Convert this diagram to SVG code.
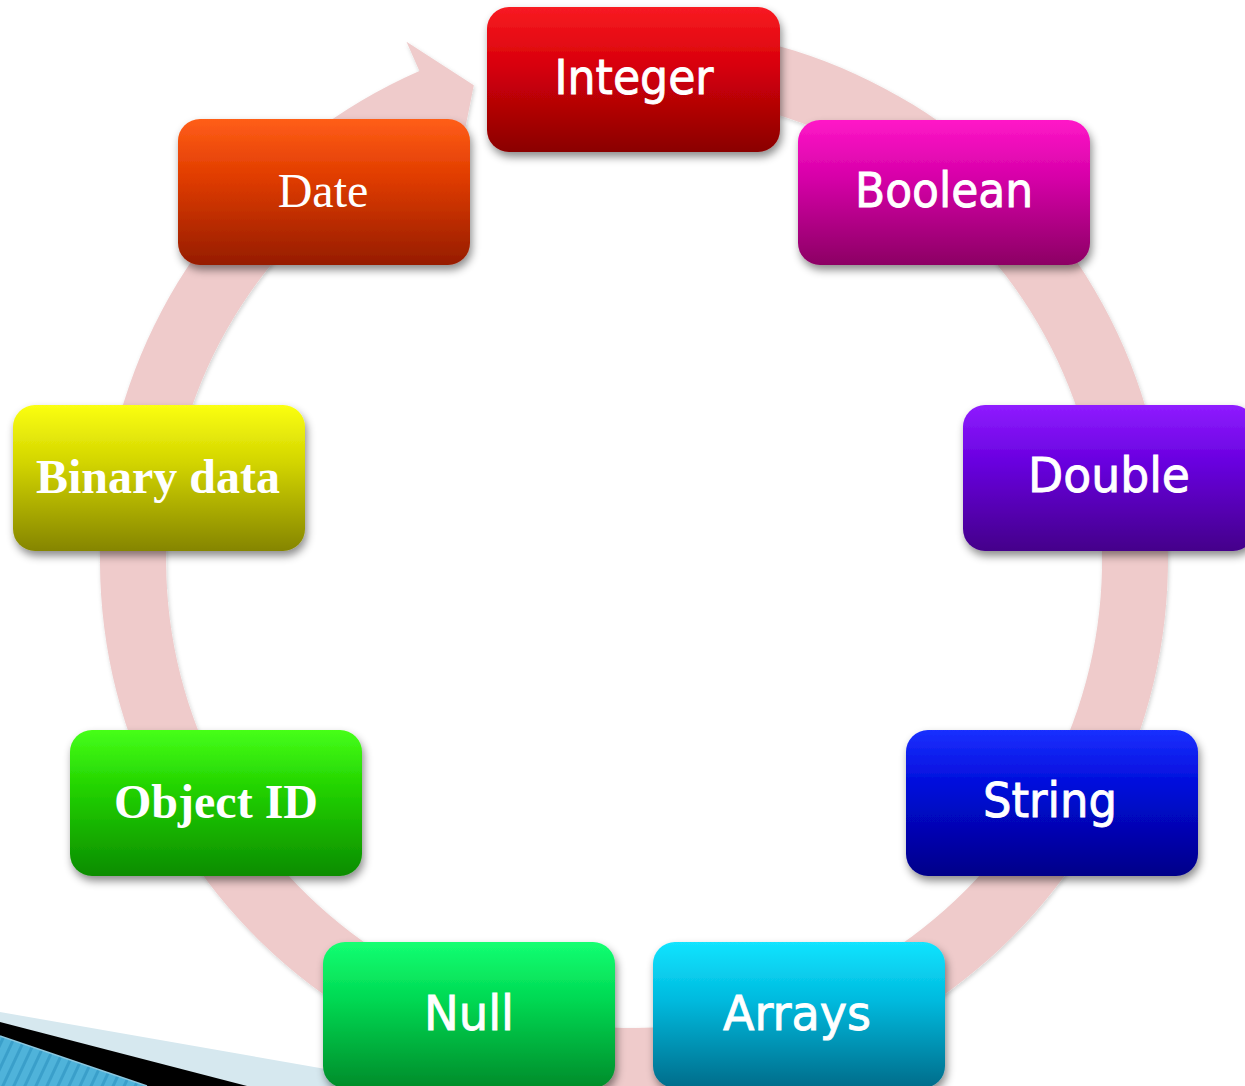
<svg xmlns="http://www.w3.org/2000/svg" width="1245" height="1086" viewBox="0 0 1245 1086">
  <style>
    .box { filter: url(#boxShadow); }
    .lbl { fill: #ffffff; text-anchor: middle; font-size: 48px; }
    .sans { font-family: "DejaVu Sans", "Liberation Sans", sans-serif; stroke: #ffffff; stroke-width: 0.9px; }
    .serif { font-family: "Liberation Serif", "DejaVu Serif", serif; }
    .bold { font-weight: bold; }
    .ring { fill: #efcbcb; filter: url(#ringShadow); }
  </style>
  <defs>
    <filter id="boxShadow" x="-10%" y="-10%" width="125%" height="135%">
      <feDropShadow dx="2" dy="5" stdDeviation="4" flood-color="#000000" flood-opacity="0.45"/>
    </filter>
    <filter id="ringShadow" x="-5%" y="-5%" width="110%" height="110%">
      <feDropShadow dx="1" dy="2" stdDeviation="2" flood-color="#000000" flood-opacity="0.18"/>
    </filter>
    <linearGradient id="gInteger" x1="0" y1="0" x2="0" y2="1">
      <stop offset="0" stop-color="#f81b22"/><stop offset="0.4" stop-color="#d8000a"/><stop offset="1" stop-color="#8a0000"/>
    </linearGradient>
    <linearGradient id="gBoolean" x1="0" y1="0" x2="0" y2="1">
      <stop offset="0" stop-color="#ff17c8"/><stop offset="0.4" stop-color="#d600a8"/><stop offset="1" stop-color="#8c0064"/>
    </linearGradient>
    <linearGradient id="gDouble" x1="0" y1="0" x2="0" y2="1">
      <stop offset="0" stop-color="#8f1cff"/><stop offset="0.4" stop-color="#6800de"/><stop offset="1" stop-color="#44008a"/>
    </linearGradient>
    <linearGradient id="gString" x1="0" y1="0" x2="0" y2="1">
      <stop offset="0" stop-color="#1a30ff"/><stop offset="0.4" stop-color="#000ad8"/><stop offset="1" stop-color="#000088"/>
    </linearGradient>
    <linearGradient id="gArrays" x1="0" y1="0" x2="0" y2="1">
      <stop offset="0" stop-color="#12e4ff"/><stop offset="0.4" stop-color="#00bade"/><stop offset="1" stop-color="#006c8a"/>
    </linearGradient>
    <linearGradient id="gNull" x1="0" y1="0" x2="0" y2="1">
      <stop offset="0" stop-color="#14ff72"/><stop offset="0.4" stop-color="#00d852"/><stop offset="1" stop-color="#008c2a"/>
    </linearGradient>
    <linearGradient id="gObjectId" x1="0" y1="0" x2="0" y2="1">
      <stop offset="0" stop-color="#46ff18"/><stop offset="0.4" stop-color="#22d200"/><stop offset="1" stop-color="#0a8c00"/>
    </linearGradient>
    <linearGradient id="gBinary" x1="0" y1="0" x2="0" y2="1">
      <stop offset="0" stop-color="#fbff12"/><stop offset="0.4" stop-color="#d2d400"/><stop offset="1" stop-color="#858500"/>
    </linearGradient>
    <linearGradient id="gDate" x1="0" y1="0" x2="0" y2="1">
      <stop offset="0" stop-color="#ff5e18"/><stop offset="0.4" stop-color="#e03c00"/><stop offset="1" stop-color="#961c00"/>
    </linearGradient>
    <pattern id="stripes" width="10" height="10" patternUnits="userSpaceOnUse" patternTransform="rotate(25)">
      <rect width="10" height="10" fill="#4fb3da"/>
      <rect width="3" height="10" fill="#3a9fca"/>
    </pattern>
  </defs>

  <!-- corner decoration, bottom left -->
  <g id="corner">
    <polygon points="0,1012 400,1082 400,1086 0,1086" fill="#d6e8ef"/>
    <polygon points="0,1022 247,1086 0,1086" fill="#000000"/>
    <polygon points="0,1036 147,1086 0,1086" fill="url(#stripes)"/>
    <line x1="0" y1="1036" x2="147" y2="1086" stroke="#8cc8e0" stroke-width="1.5"/>
  </g>

  <!-- circular arrow running clockwise behind the nodes -->
  <g id="connectors">
    <path class="ring" d="M634,26 A534,534 0 1 1 419.4,71.0 L406.5,41.7 L473.8,85.3 L458.8,160.8 L445.9,131.5 A468,468 0 1 0 634,92 Z"/>
  </g>

  <g id="node-integer">
    <rect class="box" x="487" y="7" width="293" height="145" rx="22" fill="url(#gInteger)"/>
    <text class="lbl sans" x="634" y="94" textLength="159" lengthAdjust="spacingAndGlyphs">Integer</text>
  </g>
  <g id="node-boolean">
    <rect class="box" x="798" y="120" width="292" height="145" rx="22" fill="url(#gBoolean)"/>
    <text class="lbl sans" x="944" y="207" textLength="178" lengthAdjust="spacingAndGlyphs">Boolean</text>
  </g>
  <g id="node-double">
    <rect class="box" x="963" y="405" width="292" height="146" rx="22" fill="url(#gDouble)"/>
    <text class="lbl sans" x="1109" y="492" textLength="162" lengthAdjust="spacingAndGlyphs">Double</text>
  </g>
  <g id="node-string">
    <rect class="box" x="906" y="730" width="292" height="146" rx="22" fill="url(#gString)"/>
    <text class="lbl sans" x="1050" y="817" textLength="134" lengthAdjust="spacingAndGlyphs">String</text>
  </g>
  <g id="node-arrays">
    <rect class="box" x="653" y="942" width="292" height="146" rx="22" fill="url(#gArrays)"/>
    <text class="lbl sans" x="797" y="1030" textLength="148" lengthAdjust="spacingAndGlyphs">Arrays</text>
  </g>
  <g id="node-null">
    <rect class="box" x="323" y="942" width="292" height="146" rx="22" fill="url(#gNull)"/>
    <text class="lbl sans" x="469" y="1030" textLength="90" lengthAdjust="spacingAndGlyphs">Null</text>
  </g>
  <g id="node-object-id">
    <rect class="box" x="70" y="730" width="292" height="146" rx="22" fill="url(#gObjectId)"/>
    <text class="lbl serif bold" x="216" y="818">Object ID</text>
  </g>
  <g id="node-binary-data">
    <rect class="box" x="13" y="405" width="292" height="146" rx="22" fill="url(#gBinary)"/>
    <text class="lbl serif bold" x="158" y="493">Binary data</text>
  </g>
  <g id="node-date">
    <rect class="box" x="178" y="119" width="292" height="146" rx="22" fill="url(#gDate)"/>
    <text class="lbl serif" x="323" y="207">Date</text>
  </g>
</svg>
